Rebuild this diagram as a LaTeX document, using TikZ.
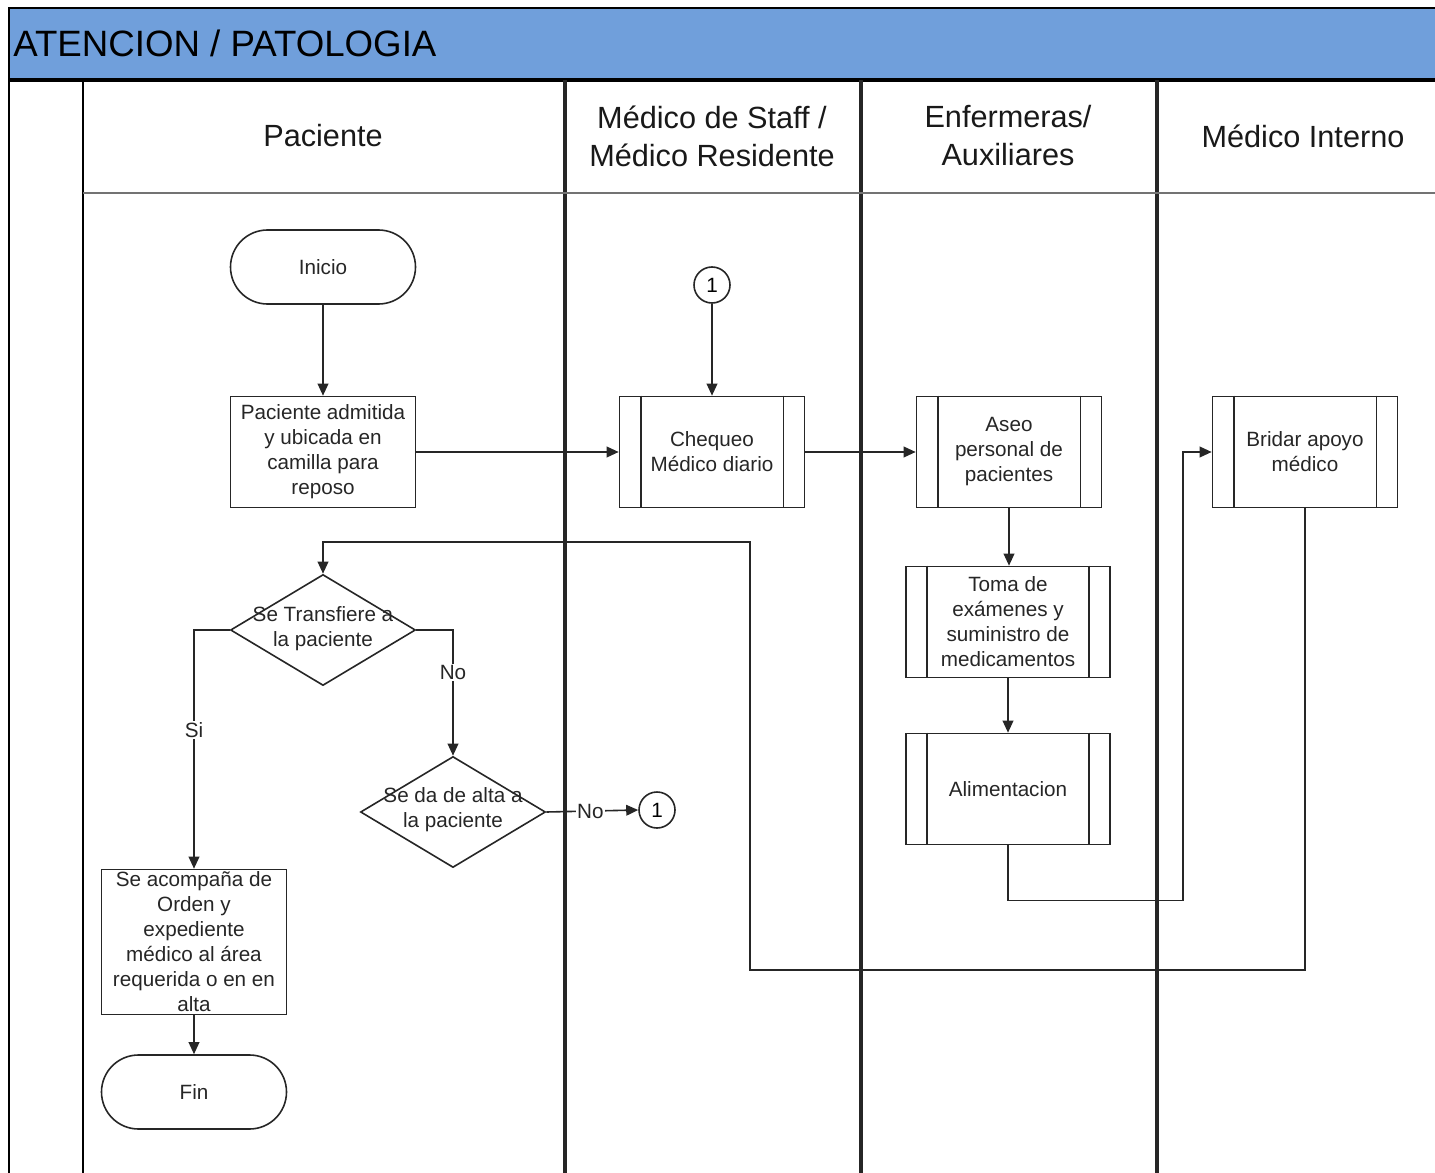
\documentclass[tikz,border=0pt]{standalone}
\usepackage{fontspec}
\setmainfont{Liberation Sans}
\usetikzlibrary{shapes.geometric,arrows.meta}

\definecolor{bandblue}{RGB}{112,159,219}
\newcommand{\flowfont}{\fontsize{15.5}{18.75}\selectfont}
\newcommand{\lanefont}{\fontsize{23}{28.5}\selectfont}
\newcommand{\bandfont}{\fontsize{27.5}{33}\selectfont}

\tikzset{
  link/.style={draw=black!85, line width=1.2pt},
  flow/.style={link, -{Triangle[length=9pt,width=8pt]}},
  lane/.style={draw=black!85, line width=2.4pt},
  term/.style={draw=black!85, line width=1.2pt, rounded corners=27.75pt, minimum width=138.75pt, minimum height=55.5pt, align=center, font=\flowfont, text=black!85},
  proc/.style={draw=black!85, line width=1.2pt, minimum width=138.75pt, minimum height=83.25pt, align=center, font=\flowfont, text=black!85, inner sep=1pt},
  subproc/.style={proc},
  decision/.style={diamond, draw=black!85, line width=1.2pt, minimum width=138.75pt, minimum height=83.25pt, inner sep=0pt},
  txt/.style={align=center, font=\flowfont, text=black!85, inner sep=0pt},
  conn/.style={circle, draw=black!85, line width=1.2pt, minimum size=27pt, inner sep=0pt, font=\flowfont},
  lbl/.style={fill=white, font=\flowfont, text=black!85, inner sep=1pt},
  lanetitle/.style={align=center, font=\lanefont, text=black!90, inner sep=0pt}
}

\begin{document}
\begin{tikzpicture}[x=0.75pt,y=0.75pt,yscale=-1,xscale=1]
\useasboundingbox (0,0) rectangle (1435,1173);

%Pool header band
\fill[bandblue] (9,8) rectangle (1435,80);
\draw[line width=1.6pt] (1435,8) -- (9,8) -- (9,1173);
\draw[line width=2.8pt] (9,80) -- (1435,80);
\node[anchor=west, font=\bandfont, inner sep=0pt] (pool) at (13,43) {ATENCION / PATOLOGIA};

%Lanes
\draw[line width=1pt] (83,80) -- (83,1173);
\foreach \x in {565,861,1157}
  \draw[lane] (\x,80) -- (\x,1173);
\draw[draw=black!55, line width=2.2pt] (83,193) -- (1435,193);

% Lane titles
\node[lanetitle] (hpac) at (323,136) {Paciente};
\node[lanetitle] (hmed) at (712,136) {Médico de Staff /\\Médico Residente};
\node[lanetitle] (henf) at (1008,136) {Enfermeras/\\Auxiliares};
\node[lanetitle] (hint) at (1303,136) {Médico Interno};

%Shapes
\node[term] (inicio) at (323,267) {Inicio};
\node[proc] (adm) at (323,452) {Paciente admitida\\y ubicada en\\camilla para\\reposo};
\node[conn] (c1) at (712,285) {1};
\node[subproc] (cheq) at (712,452) {Chequeo\\Médico diario};
\node[subproc] (aseo) at (1009,452) {Aseo\\personal de\\pacientes};
\node[subproc] (apoyo) at (1305,452) {Bridar apoyo\\médico};
\node[subproc, minimum width=153pt] (toma) at (1008,622) {Toma de\\exámenes y\\suministro de\\medicamentos};
\node[subproc, minimum width=153pt] (alim) at (1008,789) {Alimentacion};
\node[decision] (dec1) at (323,630) {};
\node[txt] (dec1t) at (323,629) {Se Transfiere a\\la paciente};
\node[decision] (dec2) at (453,812) {};
\node[txt] (dec2t) at (453,810) {Se da de alta a\\la paciente};
\node[conn] (c2) at (657,810) {1};
\node[proc, minimum height=108.75pt] (acomp) at (194,942) {Se acompaña de\\Orden y\\expediente\\médico al área\\requerida o en en\\alta};
\node[term] (fin) at (194,1092) {Fin};

% Side bars of the sub-process boxes
\foreach \n in {cheq,aseo,apoyo,toma,alim}{
  \draw[link] ([xshift=16.5pt]\n.north west) -- ([xshift=16.5pt]\n.south west);
  \draw[link] ([xshift=-16.5pt]\n.north east) -- ([xshift=-16.5pt]\n.south east);
}

%Connectors
\coordinate (ret1) at (750,970);
\coordinate (ret2) at (750,542);
\draw[flow] (inicio) -- (adm);
\draw[flow] (adm) -- (cheq);
\draw[flow] (c1) -- (cheq);
\draw[flow] (cheq) -- (aseo);
\draw[flow] (aseo.south) -- (aseo.south |- toma.north);
\draw[flow] (toma.south) -- (alim.north);
\draw[flow] (alim.south) -- ++(0,55) -- ++(175,0) |- (apoyo.west);
\draw[flow] (apoyo.south) |- (ret1) -- (ret2) -| (dec1.north);
\draw[flow] (dec1.west) -| node[lbl, pos=0.71] {Si} (acomp.north);
\draw[flow] (dec1.east) -| node[lbl, pos=0.67] {No} (dec2.north);
\draw[flow] (dec2.east) -- node[lbl, pos=0.48] {No} (c2.west);
\draw[flow] (acomp) -- (fin);

\end{tikzpicture}
\end{document}
